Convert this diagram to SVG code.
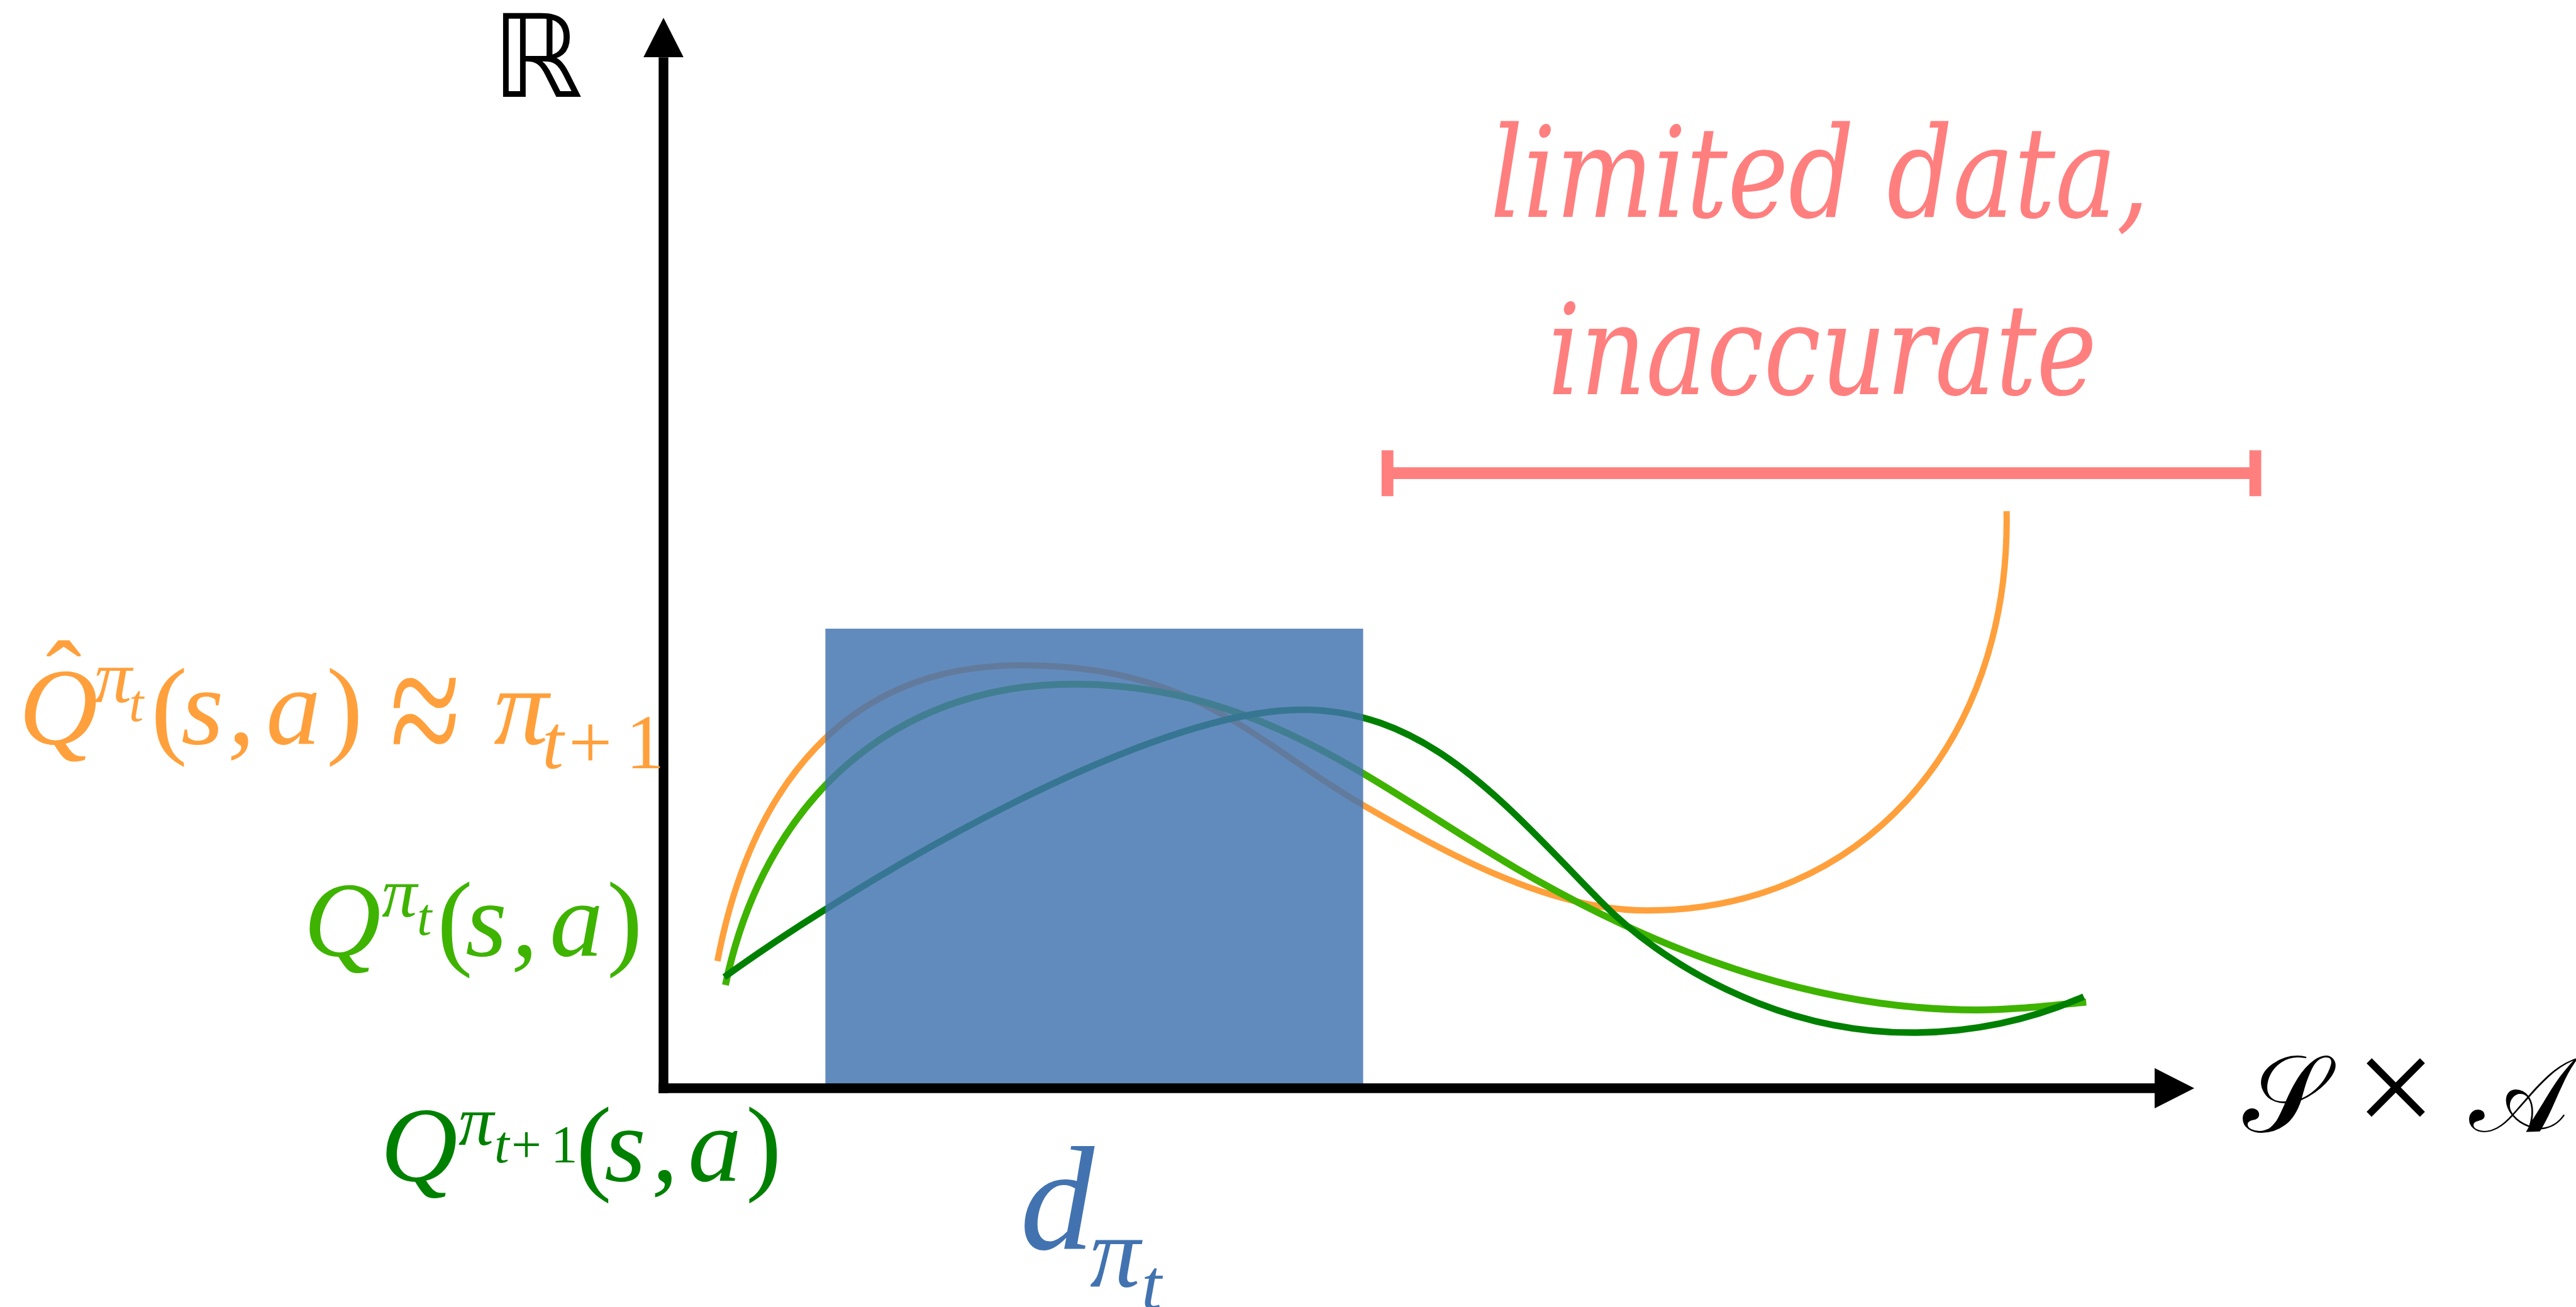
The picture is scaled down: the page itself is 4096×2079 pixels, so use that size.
<svg xmlns="http://www.w3.org/2000/svg" width="4096" height="2079" viewBox="0 0 4096 2079">
<defs>
<marker id="arrow" markerUnits="userSpaceOnUse" markerWidth="64" markerHeight="64" viewBox="0 0 64 64" refX="0" refY="32" orient="auto"><path d="M0,0 L63,32 L0,64 Z" fill="#000"/></marker>
</defs>
<style>
.curve{fill:none;stroke-linecap:butt;stroke-linejoin:round}
.m{font-family:"Liberation Serif","Times New Roman",serif;font-style:italic}
.u{font-family:"Liberation Serif","Times New Roman",serif;font-style:normal}
.axis{fill:none;stroke:#000;stroke-width:15.4;stroke-linecap:butt}
.red{fill:none;stroke:#FF7F7F;stroke-width:18.8;stroke-linecap:butt}
.scr{font-family:"DejaVu Serif","DejaVu Sans",serif}
</style>
<rect width="4096" height="2079" fill="#fff"/>
<g id="curves">
<path id="curve-qhat" class="curve" stroke="#FFA03C" stroke-width="10" d="M1140.8,1528.7 C1193.2,1253.7 1342.6,1058.2 1622.6,1058.2 C1902.6,1058.2 1994.5,1180.3 2167.5,1280.7 C2314.6,1366 2468.9,1448.3 2618.9,1448.3 C2956.2,1448.3 3197,1188 3190.6,813.1"/>
<path id="curve-qt" class="curve" stroke="#3EB300" stroke-width="11" d="M1153.5,1566.9 C1213.4,1278.1 1416.2,1088.2 1706.2,1088.2 C2006.2,1088.2 2194.5,1254.6 2410.2,1380.9 C2608.7,1497.1 2862.7,1606.5 3142.7,1606.5 C3201,1606.5 3259.1,1599.5 3317.2,1594.1"/>
<path id="curve-qt1" class="curve" stroke="#008000" stroke-width="10.5" d="M1151.7,1554.2 C1362.8,1402.4 1820.3,1128.9 2070.3,1128.9 C2270.3,1128.9 2392.5,1277.9 2546.5,1435.2 C2637.5,1528.2 2820.3,1642.6 3040.3,1642.6 C3133.3,1642.6 3228.4,1623.2 3313.3,1585.2"/>
</g>
<g id="distribution">
<rect x="1312.4" y="1000" width="855.1" height="731" fill="#4273B0" fill-opacity="0.83"/>
</g>
<g id="axes">
<path class="axis" d="M1055,1739 V91.3" marker-end="url(#arrow)"/>
<path class="axis" d="M1047.3,1731 H3426" marker-end="url(#arrow)"/>
</g>
<g id="range-bracket">
<path class="red" d="M2206.2,752.7 H3586.1 M2206.2,716.2 V789.3 M3586.1,716.2 V789.3"/>
</g>
<g id="label-R">
<text x="782" y="153.8" font-family="DejaVu Sans, sans-serif" font-size="183">ℝ</text>
</g>
<g id="label-SxA">
<text class="scr" x="3566" y="1800" font-size="172">𝒮</text>
<text class="u" x="3745" y="1806" font-size="228">×</text>
<text class="scr" x="3926" y="1800" font-size="168">𝒜</text>
</g>
<g id="label-limited" fill="#FF7F7F" font-family="DejaVu Serif, serif" font-style="italic" font-size="200">
<text x="2369.5" y="345.2" textLength="1048" lengthAdjust="spacingAndGlyphs">limited data,</text>
<text x="2461.2" y="626.6" textLength="873" lengthAdjust="spacingAndGlyphs">inaccurate</text>
</g>
<g id="label-qhat" fill="#FFA03C">
<text class="m" x="30" y="1182.5" font-size="174">Q</text>
<text class="u" x="73" y="1136.6" font-size="170">ˆ</text>
<text class="m" x="150" y="1117" font-size="119">π</text>
<text class="m" x="205" y="1146.8" font-size="84">t</text>
<text class="u" x="240" y="1182.5" font-size="174">(</text>
<text class="m" x="288" y="1182.5" font-size="174">s</text>
<text class="m" x="362" y="1182.5" font-size="174">,</text>
<text class="m" x="423" y="1182.5" font-size="174">a</text>
<text class="u" x="519" y="1182.5" font-size="174">)</text>
<text class="u" transform="translate(620,1226) scale(1,1.4)" x="0" y="0" font-size="205">≈</text>
<text class="m" x="785" y="1182.5" font-size="174">π</text>
<text class="m" x="862" y="1222" font-size="123">t</text>
<text class="u" x="904" y="1222" font-size="123">+</text>
<text class="u" x="995" y="1222" font-size="123">1</text>
</g>
<g id="label-qt" fill="#3EB300">
<text class="m" x="483" y="1519.7" font-size="170">Q</text>
<text class="m" x="607" y="1458.2" font-size="112">π</text>
<text class="m" x="663" y="1487" font-size="84">t</text>
<text class="u" x="695" y="1519.7" font-size="170">(</text>
<text class="m" x="740" y="1519.7" font-size="170">s</text>
<text class="m" x="813" y="1519.7" font-size="170">,</text>
<text class="m" x="874" y="1519.7" font-size="170">a</text>
<text class="u" x="965" y="1519.7" font-size="170">)</text>
</g>
<g id="label-qt1" fill="#008000">
<text class="m" x="605" y="1877.9" font-size="170">Q</text>
<text class="m" x="729" y="1821.3" font-size="112">π</text>
<text class="m" x="786" y="1849.1" font-size="85">t</text>
<text class="u" x="813" y="1849.1" font-size="85">+</text>
<text class="u" x="876" y="1849.1" font-size="85">1</text>
<text class="u" x="916" y="1877.9" font-size="170">(</text>
<text class="m" x="961" y="1877.9" font-size="170">s</text>
<text class="m" x="1036" y="1877.9" font-size="170">,</text>
<text class="m" x="1094" y="1877.9" font-size="170">a</text>
<text class="u" x="1186" y="1877.9" font-size="170">)</text>
</g>
<g id="label-d" fill="#4273B0">
<text class="m" x="1622" y="1987" font-size="236">d</text>
<text class="m" x="1733" y="2045.5" font-size="160">π</text>
<text class="m" x="1815" y="2082" font-size="115">t</text>
</g>
</svg>
